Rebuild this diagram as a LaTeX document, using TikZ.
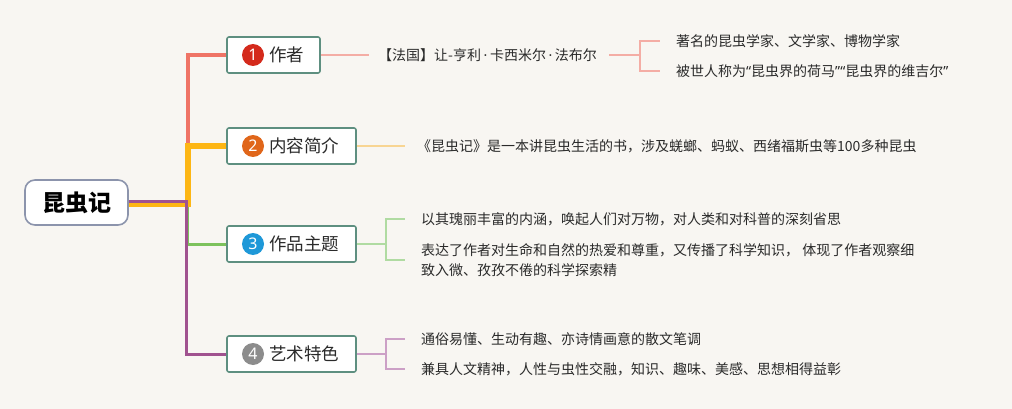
\documentclass[tikz,border=0pt]{standalone}
\usepackage{fontspec}
\setmainfont{Noto Sans CJK SC}
\newfontfamily\latf{Noto Sans}
\newcommand{\mydot}{\hspace{2.6pt}{\latf ·}\hspace{2.6pt}}
\newcommand{\myoq}{{\latf “}}
\newcommand{\mycq}{{\latf ”}}
\definecolor{bgc}{HTML}{F8F6F2}
\definecolor{rootc}{HTML}{8C94AC}
\definecolor{boxc}{HTML}{5E8F80}
\definecolor{redl}{HTML}{EF7466}
\definecolor{orgl}{HTML}{FDB614}
\definecolor{grnl}{HTML}{7DC25D}
\definecolor{purl}{HTML}{A0528F}
\definecolor{pinkt}{HTML}{F4ADA5}
\definecolor{yelt}{HTML}{F8D593}
\definecolor{grnt}{HTML}{B0DBA2}
\definecolor{purt}{HTML}{CCA0C6}
\definecolor{cone}{HTML}{D42A1C}
\definecolor{ctwo}{HTML}{E0661A}
\definecolor{cthree}{HTML}{1E98D8}
\definecolor{cfour}{HTML}{8C8C8C}
\definecolor{txtc}{HTML}{2A2A2A}
\begin{document}
\begin{tikzpicture}[x=1pt,y=-1pt,
  topic/.style={draw=boxc, line width=1.6pt, fill=white, rounded corners=2pt, minimum height=36pt, inner sep=0pt},
  numc/.style={circle, minimum size=22pt, inner sep=0pt, text=white, font=\latf\fontsize{16}{16}\selectfont},
  lbl/.style={font=\fontsize{17.5}{18}\selectfont, inner sep=0pt, anchor=west, text=txtc},
  leaf/.style={font=\fontsize{14}{20}\selectfont, inner sep=0pt, anchor=west, text=txtc, align=left},
  thin/.style={line width=1.5pt},
  trunk/.style={line join=miter}]
\fill[bgc] (0,0) rectangle (1012,409);
\useasboundingbox (0,0) rectangle (1012,409);

% root
\node[draw=rootc, line width=1.6pt, rounded corners=10pt, fill=white, minimum width=103pt, minimum height=45pt, inner sep=0pt, font=\fontsize{23}{23}\selectfont\bfseries, text=black] (root) at (76.5,202.5) {昆虫记};

% topic boxes
\node[topic, minimum width=93pt] (b1) at (273.5,55) {};
\node[topic, minimum width=129pt] (b2) at (291.5,146) {};
\node[topic, minimum width=129pt] (b3) at (291.5,244) {};
\node[topic, minimum width=129pt] (b4) at (291.5,354) {};

% trunk connectors
\draw[trunk, redl, line width=4pt] ([yshift=-0.5pt]root.east) -- ++(59,0) |- (b1.west);
\draw[trunk, grnl, line width=3pt] ([yshift=1pt]root.east) -- ++(59,0) |- (b3.west);
\draw[trunk, orgl, line width=5.5pt] ([yshift=-1.5pt]root.east) -- ++(59,0) |- (b2.west);
\draw[trunk, purl, line width=3pt] ([yshift=1pt]root.east) -- ++(58,0) |- (b4.west);

% numbers and labels
\node[numc, fill=cone] (n1) at (253,55) {1};
\node[lbl] (l1) at (269,55) {作者};
\node[numc, fill=ctwo] (n2) at (253,146) {2};
\node[lbl] (l2) at (269,146) {内容简介};
\node[numc, fill=cthree] (n3) at (253,244) {3};
\node[lbl] (l3) at (269,244) {作品主题};
\node[numc, fill=cfour] (n4) at (253,354) {4};
\node[lbl] (l4) at (269,354) {艺术特色};

% leaves of topic 1
\node[leaf] (f1) at (378,55) {【法国】让-亨利\mydot 卡西米尔\mydot 法布尔};
\node[leaf] (a11) at (676,41) {著名的昆虫学家、文学家、博物学家};
\node[leaf] (a12) at (676,71) {被世人称为\myoq 昆虫界的荷马\mycq\myoq 昆虫界的维吉尔\mycq};
\coordinate (k1) at (640,55);
\draw[thin, pinkt, shorten >=9pt] (b1.east) -- (f1.west);
\draw[thin, pinkt, shorten <=12pt] (f1.east) -- (k1);
\draw[thin, pinkt, shorten >=16pt] (k1) |- (a11.west);
\draw[thin, pinkt, shorten >=16pt] (k1) |- (a12.west);

% leaf of topic 2
\node[leaf] (a2) at (417,146) {《昆虫记》是一本讲昆虫生活的书，涉及蜣螂、蚂蚁、西绪福斯虫等100多种昆虫};
\draw[thin, yelt, shorten >=12pt] (b2.east) -- (a2.west);

% leaves of topic 3
\node[leaf] (a31) at (421,219) {以其瑰丽丰富的内涵，唤起人们对万物，对人类和对科普的深刻省思};
\node[leaf] (a32) at (421,260) {表达了作者对生命和自然的热爱和尊重，又传播了科学知识， 体现了作者观察细\\致入微、孜孜不倦的科学探索精};
\coordinate (k3) at (386,244);
\draw[thin, grnt] (b3.east) -- (k3);
\draw[thin, grnt, shorten >=16pt] (k3) |- (a31.west);
\draw[thin, grnt, shorten >=16pt] (k3) |- (a32.west);

% leaves of topic 4
\node[leaf] (a41) at (421,339) {通俗易懂、生动有趣、亦诗情画意的散文笔调};
\node[leaf] (a42) at (421,369) {兼具人文精神，人性与虫性交融，知识、趣味、美感、思想相得益彰};
\coordinate (k4) at (386,354);
\draw[thin, purt] (b4.east) -- (k4);
\draw[thin, purt, shorten >=16pt] (k4) |- (a41.west);
\draw[thin, purt, shorten >=16pt] (k4) |- (a42.west);
\end{tikzpicture}
\end{document}
